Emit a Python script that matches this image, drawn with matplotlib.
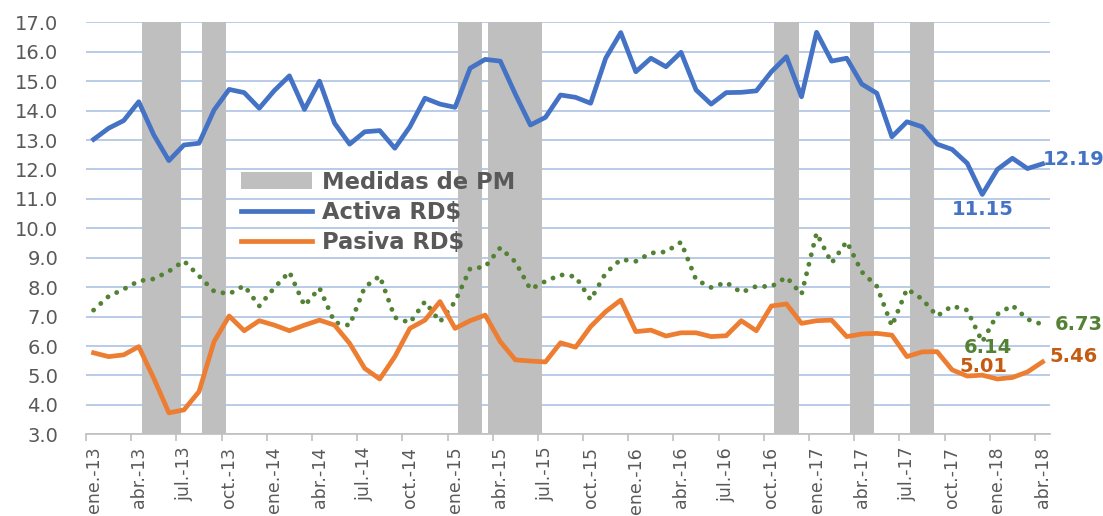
import numpy as np
import matplotlib
matplotlib.use("Agg")
import matplotlib.pyplot as plt
from matplotlib.patches import Patch
from matplotlib.lines import Line2D

# Tasas mensuales ene-13 .. abr-18
activa = [13.02, 13.40, 13.66, 14.30, 13.17, 12.30, 12.83, 12.89, 14.02, 14.72,
          14.61, 14.08, 14.68, 15.18, 14.04, 15.00, 13.57, 12.86, 13.28, 13.32,
          12.72, 13.45, 14.42, 14.22, 14.11, 15.44, 15.74, 15.68, 14.56, 13.51,
          13.77, 14.53, 14.45, 14.25, 15.78, 16.65, 15.32, 15.78, 15.49, 15.98,
          14.70, 14.22, 14.61, 14.62, 14.67, 15.32, 15.83, 14.47, 16.66, 15.68,
          15.78, 14.90, 14.59, 13.11, 13.62, 13.45, 12.86, 12.68, 12.21, 11.15,
          12.00, 12.38, 12.03, 12.19]
pasiva = [5.77, 5.64, 5.70, 5.98, 4.90, 3.73, 3.83, 4.45, 6.15, 7.02,
          6.52, 6.86, 6.71, 6.52, 6.71, 6.88, 6.71, 6.09, 5.24, 4.88,
          5.64, 6.60, 6.88, 7.51, 6.60, 6.86, 7.05, 6.15, 5.53, 5.49,
          5.46, 6.11, 5.96, 6.66, 7.17, 7.56, 6.49, 6.54, 6.34, 6.45,
          6.45, 6.32, 6.35, 6.86, 6.52, 7.36, 7.43, 6.77, 6.86, 6.88,
          6.32, 6.41, 6.43, 6.37, 5.64, 5.80, 5.81, 5.19, 4.98, 5.01,
          4.88, 4.93, 5.12, 5.46]
verde = [7.22, 7.69, 7.93, 8.21, 8.28, 8.54, 8.89, 8.38, 7.86, 7.77,
         8.05, 7.36, 7.98, 8.52, 7.37, 7.97, 6.80, 6.70, 8.00, 8.38,
         6.97, 6.79, 7.51, 6.82, 7.51, 8.63, 8.69, 9.34, 8.86, 7.93,
         8.20, 8.42, 8.36, 7.57, 8.48, 8.94, 8.88, 9.16, 9.20, 9.53,
         8.25, 7.99, 8.16, 7.82, 8.03, 8.02, 8.34, 7.76, 9.84, 8.82,
         9.55, 8.52, 8.03, 6.68, 7.94, 7.60, 7.02, 7.36, 7.22, 6.14,
         7.08, 7.38, 6.91, 6.73]

tick_labels = ['ene.-13', 'abr.-13', 'jul.-13', 'oct.-13', 'ene.-14', 'abr.-14',
               'jul.-14', 'oct.-14', 'ene.-15', 'abr.-15', 'jul.-15', 'oct.-15',
               'ene.-16', 'abr.-16', 'jul.-16', 'oct.-16', 'ene.-17', 'abr.-17',
               'jul.-17', 'oct.-17', 'ene.-18', 'abr.-18']

# periodos de medidas de politica monetaria (indice de mes, inclusivo)
pm_inicio = [3, 7, 24, 26, 45, 50, 54]
pm_fin = [5, 8, 25, 29, 46, 51, 55]

azul = '#4472C4'
naranja = '#ED7D31'
verde_c = '#548235'
gris_txt = '#595959'

x = np.arange(len(activa))

fig = plt.figure(figsize=(11.03, 5.16), dpi=100)
ax = fig.add_axes([0.078, 0.1583, 0.874, 0.7985])

for a, b in zip(pm_inicio, pm_fin):
    ax.axvspan(a + 0.2, b + 0.8, color='#BFBFBF', lw=0, zorder=2)

ax.plot(x, activa, color=azul, lw=3.4, zorder=4, solid_joinstyle='round')
ax.plot(x, pasiva, color=naranja, lw=3.4, zorder=4, solid_joinstyle='round')
ax.plot(x, verde, color=verde_c, lw=3.5, linestyle=(0, (0.01, 2.0)),
        dash_capstyle='round', zorder=3)

ax.set_xlim(-0.5, len(activa) - 0.5)
ax.set_ylim(3, 17)
ax.set_yticks(np.arange(3, 18, 1))
ax.set_yticklabels(['%.1f' % v for v in np.arange(3, 18, 1)])
ax.grid(axis='y', color='#B4C7E7', lw=1.3, zorder=1)
ax.set_axisbelow(True)

ax.set_xticks(x[::3])
ax.set_xticklabels(tick_labels, rotation=90)
ax.set_xticks(np.arange(-0.5, len(activa) - 1, 3), minor=True)
ax.tick_params(axis='x', which='major', length=0, pad=9, labelsize=12.5, labelcolor=gris_txt)
ax.tick_params(axis='x', which='minor', length=5, width=1.2, color='#BFBFBF')
ax.tick_params(axis='y', length=0, pad=20, labelsize=14, labelcolor=gris_txt)

for s in ['top', 'right', 'left']:
    ax.spines[s].set_visible(False)
ax.spines['bottom'].set_color('#BFBFBF')
ax.spines['bottom'].set_linewidth(1.2)

handles = [Patch(facecolor='#BFBFBF', edgecolor='none'),
           Line2D([], [], color=azul, lw=3.4),
           Line2D([], [], color=naranja, lw=3.4)]
leg = ax.legend(handles, ['Medidas de PM', 'Activa RD$', 'Pasiva RD$'],
                loc='upper left', bbox_to_anchor=(0.161, 0.64), frameon=False,
                borderpad=0, borderaxespad=0, handlelength=3.14, handleheight=0.75,
                handletextpad=0.42, labelspacing=0.31,
                prop={'size': 16.3, 'weight': 'bold'})
for t in leg.get_texts():
    t.set_color(gris_txt)

n = len(activa) - 1
m_min = 59
ax.annotate('%.2f' % activa[n], (x[n], activa[n]), xytext=(0, 3), textcoords='offset points',
            ha='left', va='center', color=azul, fontsize=14, fontweight='bold')
ax.annotate('%.2f' % activa[m_min], (x[m_min], activa[m_min]), xytext=(0, -11), textcoords='offset points',
            ha='center', va='center', color=azul, fontsize=14, fontweight='bold')
ax.annotate('%.2f' % verde[n], (x[n], verde[n]), xytext=(9, 0), textcoords='offset points',
            ha='left', va='center', color=verde_c, fontsize=14, fontweight='bold')
ax.annotate('%.2f' % verde[m_min], (x[m_min], verde[m_min]), xytext=(4, -4), textcoords='offset points',
            ha='center', va='center', color=verde_c, fontsize=14, fontweight='bold', zorder=5)
ax.annotate('%.2f' % pasiva[m_min], (x[m_min], pasiva[m_min]), xytext=(1, 6), textcoords='offset points',
            ha='center', va='center', color='#C55A11', fontsize=14, fontweight='bold', zorder=5)
ax.annotate('%.2f' % pasiva[n], (x[n], pasiva[n]), xytext=(5, 4), textcoords='offset points',
            ha='left', va='center', color='#C55A11', fontsize=14, fontweight='bold')

fig.savefig('out.png', dpi=100)
